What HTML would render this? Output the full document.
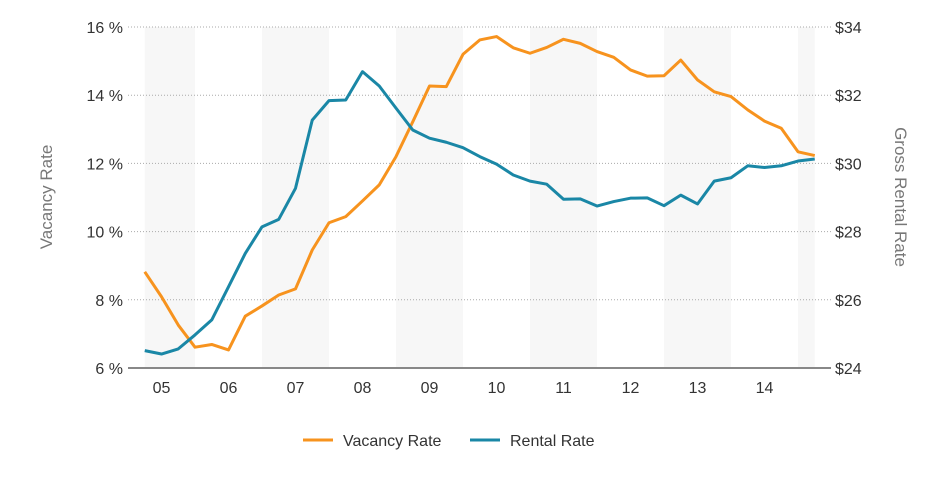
<!DOCTYPE html>
<html><head><meta charset="utf-8"><style>
body{margin:0;background:#fff;}
svg text{font-family:"Liberation Sans",Arial,sans-serif;}
</style></head><body>
<svg id="chart" width="950" height="475" xmlns="http://www.w3.org/2000/svg">
<g id="bands"></g>
<g id="grid"></g>
<g id="ticks"></g>
<line x1="128" x2="831" y1="368" y2="368" stroke="#888" stroke-width="2"/>
<g id="lines"></g>
<text x="0" y="0" transform="translate(52,197) rotate(-90)" text-anchor="middle" font-size="17" fill="#777">Vacancy Rate</text>
<text x="0" y="0" transform="translate(895,197) rotate(90)" text-anchor="middle" font-size="17" fill="#777">Gross Rental Rate</text>
<g>
<g><line x1="303" x2="333" y1="440" y2="440" stroke="#f7931e" stroke-width="3"/><text x="343" y="446" font-size="16" fill="#333">Vacancy Rate</text></g>
<g><line x1="470" x2="500" y1="440" y2="440" stroke="#1a87a6" stroke-width="3"/><text x="510" y="446" font-size="16" fill="#333">Rental Rate</text></g>
</g>
</svg>
<script>
const years=["05","06","07","08","09","10","11","12","13","14"];
const leftTicks=[6,8,10,12,14,16];
const rightTicks=[24,26,28,30,32,34];
const vacancy=[8.82,8.09,7.26,6.61,6.69,6.53,7.52,7.82,8.14,8.32,9.46,10.26,10.44,10.9,11.37,12.2,13.22,14.27,14.25,15.2,15.62,15.72,15.39,15.23,15.4,15.64,15.52,15.28,15.11,14.74,14.56,14.57,15.03,14.45,14.1,13.96,13.57,13.24,13.03,12.34,12.23];
const rental=[24.51,24.41,24.56,24.97,25.41,26.38,27.36,28.14,28.36,29.27,31.27,31.84,31.86,32.69,32.27,31.62,30.98,30.74,30.62,30.46,30.2,29.98,29.66,29.48,29.39,28.95,28.96,28.75,28.88,28.98,28.99,28.76,29.07,28.81,29.48,29.58,29.93,29.88,29.93,30.07,30.13];
const NS="http://www.w3.org/2000/svg";
const x0=128,yearW=67;
const xq=i=>x0+yearW/4*(i+1);
const yL=v=>368-(v-6)*34.1;
const yR=v=>368-(v-24)*34.1;
function mk(t,a,p){const e=document.createElementNS(NS,t);for(const k in a)e.setAttribute(k,a[k]);p.appendChild(e);return e;}
const bands=document.getElementById('bands');
const lastX=xq(vacancy.length-1);
for(let i=0;i<=years.length;i+=2){const s=Math.max(x0+i*yearW,xq(0));const e=Math.min(x0+(i+1)*yearW,lastX);
 if(e<=s)continue;
 const r=mk('rect',{x:s,y:27,width:e-s,height:341,fill:'#f7f7f7'},bands);
 
 }
const grid=document.getElementById('grid'),ticks=document.getElementById('ticks');
leftTicks.forEach((v,i)=>{
 const g=mk('line',{x1:128,x2:831,y1:yL(v),y2:yL(v),stroke:'#aaa','stroke-dasharray':'1,2'},grid);
 
 
 const t=mk('text',{x:123,y:yL(v)+6,'text-anchor':'end','font-size':16,fill:'#333'},ticks);t.textContent=v+' %';
 
 
 const r=mk('text',{x:835,y:yR(rightTicks[i])+6,'font-size':16,fill:'#333'},ticks);r.textContent='$'+rightTicks[i];
 
 
});
years.forEach((y,i)=>{const t=mk('text',{x:x0+yearW*(i+0.5),y:393,'text-anchor':'middle','font-size':16,fill:'#333'},ticks);t.textContent=y;
 
 });
const lines=document.getElementById('lines');
const p1=mk('polyline',{points:vacancy.map((v,i)=>xq(i)+','+yL(v)).join(' '),fill:'none',stroke:'#f7931e','stroke-width':3,'stroke-linejoin':'round'},lines);


const p2=mk('polyline',{points:rental.map((v,i)=>xq(i)+','+yR(v)).join(' '),fill:'none',stroke:'#1a87a6','stroke-width':3,'stroke-linejoin':'round'},lines);


</script>
</body></html>
